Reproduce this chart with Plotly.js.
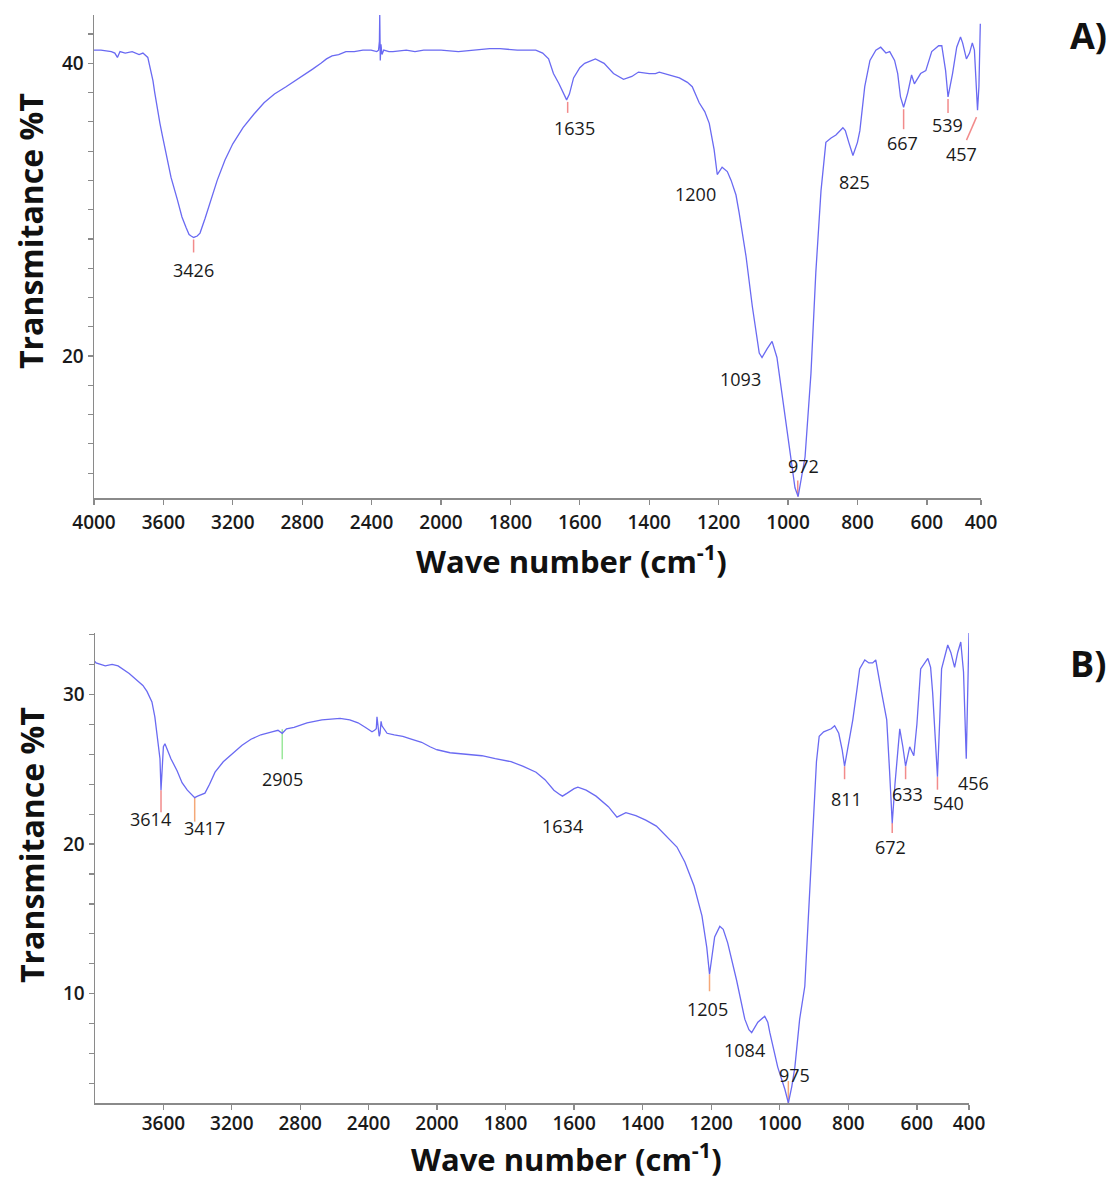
<!DOCTYPE html>
<html><head><meta charset="utf-8">
<script src="https://cdn.plot.ly/plotly-3.0.1.min.js"></script>
<style>html,body{margin:0;padding:0;background:#fff}#chart{width:1120px;height:1182px}</style>
</head><body><div id="chart"></div>
<script>
// ---- DATA ----
// Spectrum A: [wave number (cm-1), transmittance %T]
const spectrumA = [[4000,40.9],[3960,40.9],[3900,40.8],[3880,40.7],[3865,40.4],[3850,40.8],[3820,40.7],[3780,40.8],[3740,40.6],[3718,40.7],[3690,40.4],[3677,39.7],[3660,38.8],[3650,38.0],[3637,37.0],[3620,35.9],[3605,35.0],[3580,33.6],[3556,32.2],[3520,30.7],[3493,29.5],[3470,28.8],[3452,28.3],[3440,28.2],[3426,28.1],[3405,28.2],[3389,28.4],[3360,29.4],[3326,30.6],[3290,32.0],[3245,33.4],[3200,34.5],[3141,35.6],[3080,36.5],[3020,37.3],[2960,37.9],[2893,38.4],[2840,38.8],[2790,39.2],[2740,39.6],[2692,40.0],[2660,40.3],[2628,40.5],[2590,40.6],[2548,40.8],[2500,40.8],[2450,40.9],[2403,40.9],[2370,40.8],[2360,40.9],[2355,41.5],[2353,43.3],[2350,40.2],[2346,41.3],[2340,40.6],[2330,40.9],[2300,40.8],[2277,40.8],[2200,40.9],[2150,40.8],[2100,40.9],[2050,40.9],[2000,40.9],[1950,40.8],[1900,40.9],[1860,41.0],[1830,41.0],[1780,40.9],[1727,40.9],[1707,40.7],[1690,40.3],[1676,39.3],[1660,38.6],[1645,37.9],[1638,37.5],[1630,37.9],[1618,39.0],[1600,39.7],[1586,40.0],[1555,40.3],[1530,40.0],[1503,39.3],[1474,38.9],[1450,39.1],[1431,39.4],[1400,39.3],[1382,39.3],[1371,39.4],[1345,39.2],[1313,39.0],[1290,38.7],[1276,38.4],[1256,37.3],[1240,36.7],[1227,35.9],[1213,34.1],[1204,32.4],[1196,32.7],[1190,32.9],[1175,32.6],[1164,32.0],[1150,31.0],[1141,29.8],[1121,26.8],[1103,23.4],[1083,20.2],[1075,19.9],[1060,20.5],[1046,21.0],[1032,19.9],[1020,17.8],[1006,15.4],[989,12.2],[980,11.0],[971,10.4],[962,11.5],[951,13.1],[934,18.8],[920,25.7],[905,31.3],[891,34.6],[876,34.9],[862,35.1],[842,35.6],[835,35.4],[825,34.6],[813,33.7],[800,34.6],[793,35.4],[779,38.4],[764,40.2],[747,40.9],[733,41.1],[718,40.7],[707,40.8],[693,40.2],[684,39.3],[676,37.7],[667,37.0],[655,38.0],[644,39.2],[636,38.6],[626,39.0],[618,39.3],[603,39.5],[586,40.8],[566,41.2],[557,41.2],[546,39.5],[539,37.7],[526,39.3],[514,41.1],[503,41.8],[497,41.4],[486,40.3],[477,40.7],[469,41.4],[463,40.9],[454,36.8],[450,38.4],[446,42.7]];

// Spectrum B: [wave number (cm-1), transmittance %T]
const spectrumB = [[4000,32.2],[3994,32.1],[3940,31.9],[3900,32.0],[3865,31.9],[3800,31.4],[3760,31.0],[3720,30.6],[3696,30.2],[3667,29.5],[3650,28.5],[3643,27.9],[3630,26.8],[3620,25.7],[3614,23.6],[3606,25.0],[3600,26.5],[3591,26.7],[3575,26.2],[3556,25.7],[3520,24.9],[3491,24.1],[3460,23.6],[3430,23.2],[3417,23.1],[3400,23.2],[3357,23.4],[3330,24.0],[3298,24.8],[3250,25.5],[3193,26.1],[3140,26.6],[3088,27.0],[3030,27.3],[2965,27.5],[2930,27.6],[2905,27.4],[2880,27.7],[2836,27.8],[2760,28.1],[2673,28.3],[2600,28.4],[2567,28.4],[2510,28.3],[2462,28.1],[2420,27.8],[2380,27.5],[2365,27.6],[2355,27.7],[2351,28.5],[2345,27.6],[2338,27.2],[2333,27.4],[2327,28.2],[2322,27.9],[2310,27.7],[2292,27.4],[2250,27.3],[2200,27.2],[2146,27.0],[2090,26.8],[2041,26.5],[2000,26.3],[1962,26.1],[1920,26.0],[1869,25.9],[1830,25.7],[1784,25.5],[1750,25.2],[1711,24.8],[1685,24.3],[1659,23.6],[1641,23.3],[1634,23.2],[1620,23.4],[1600,23.7],[1589,23.8],[1565,23.6],[1536,23.2],[1500,22.5],[1475,21.8],[1460,22.0],[1449,22.1],[1420,21.9],[1391,21.6],[1360,21.2],[1329,20.5],[1300,19.8],[1277,18.8],[1250,17.2],[1227,15.2],[1213,13.1],[1205,11.3],[1197,12.8],[1190,13.8],[1175,14.5],[1165,14.3],[1152,13.4],[1126,10.9],[1102,8.3],[1090,7.6],[1082,7.4],[1070,7.9],[1064,8.1],[1044,8.5],[1035,8.1],[1029,7.4],[1006,5.1],[985,3.6],[975,2.7],[965,3.8],[956,5.1],[942,8.3],[927,10.5],[918,14.5],[907,19.0],[898,23.4],[893,25.5],[885,27.2],[872,27.5],[850,27.7],[840,27.9],[828,27.4],[818,26.3],[811,25.2],[800,26.5],[787,28.3],[775,30.3],[767,31.7],[752,32.3],[740,32.1],[729,32.1],[720,32.3],[706,30.5],[688,28.3],[680,25.0],[672,21.4],[664,24.0],[656,26.5],[650,27.7],[641,26.5],[633,25.2],[621,26.5],[609,25.9],[600,28.0],[589,31.7],[568,32.4],[560,31.8],[554,30.1],[545,26.0],[540,24.5],[533,28.5],[528,31.7],[510,33.3],[501,32.8],[490,31.8],[481,32.8],[472,33.5],[464,31.5],[456,25.7],[452,30.0],[448,34.1]];

// Labelled peaks (cm-1)
const peaksA = [3426, 1635, 1200, 1093, 972, 825, 667, 539, 457];
const peaksB = [3614, 3417, 2905, 1634, 1205, 1084, 975, 811, 672, 633, 540, 456];

// Tick labels
const ticksHighA = [4000, 3600, 3200, 2800, 2400, 2000];
const ticksHighB = [3600, 3200, 2800, 2400, 2000];
const ticksLow = [1800, 1600, 1400, 1200, 1000, 800, 600];
const lowEndLabel = '400';

const panelLabels = ['A)', 'B)'];
const xTitle = 'Wave number (cm<sup>-1</sup>)';
const yTitle = 'Transmitance %T';

// ---- LAYOUT GEOMETRY (pixels) ----
const W = 1120, H = 1182;
const px = v => v / W, py = v => 1 - v / H;
const FONT = '"Open Sans", sans-serif';
const geo = {
  A: {left: 94, brk: 441, right: 981, top: 15, bottom: 498, yr: [10.3, 43.3], ydt: 20, lowEnd: 444, xstand: 2,
      xTitleBottom: 584, yTitle: [31, 231], label: [1088, 36]},
  B: {left: 95, brk: 437, right: 969, top: 633, bottom: 1103, yr: [2.7, 34.1], ydt: 10, lowEnd: 448, xstand: -2,
      xTitleBottom: 1182, yTitle: [31, 845], label: [1088, 664]}
};
// label offsets: dx, dy (px, +down), mark line [x0,y0,x1,y1] px relative to peak, colour
const RED = '#f28b8b', GREEN = '#9be89b', ORANGE = '#f4a878';
const styleA = {
  3426: {dx: 0, dy: 33, line: [0, 2, 0, 15], c: RED},
  1635: {dx: 7, dy: 28, line: [0, 2, 0, 13], c: RED},
  1200: {dx: -23, dy: 19},
  1093: {dx: -15, dy: 22},
  972: {dx: 6, dy: -31, line: [0, 0, 0, -16], c: RED},
  825: {dx: 6, dy: 26},
  667: {dx: -1, dy: 36, line: [0, 2, 0, 22], c: RED},
  539: {dx: -1, dy: 28, line: [0, 2, 0, 16], c: RED},
  457: {dx: -15, dy: 44, line: [0, 7, -10, 30], c: RED}
};
const styleB = {
  3614: {dx: -11, dy: 29, line: [0, 0, 0, 22], c: RED},
  3417: {dx: 10, dy: 30, line: [0, 0, 0, 24], c: ORANGE},
  2905: {dx: 0, dy: 46, line: [0, -4, 0, 26], c: GREEN},
  1634: {dx: 0, dy: 30},
  1205: {dx: -2, dy: 35, line: [0, 0, 0, 17], c: ORANGE},
  1084: {dx: -6, dy: 17},
  975: {dx: 6, dy: -28, line: [0, 0, 0, -22], c: ORANGE},
  811: {dx: 2, dy: 33, line: [0, 0, 0, 13], c: RED},
  672: {dx: -2, dy: 24, line: [0, 0, 0, 10], c: RED},
  633: {dx: 2, dy: 28, line: [0, 0, 0, 13], c: RED},
  540: {dx: 11, dy: 26, line: [0, 0, 0, 13], c: RED},
  456: {dx: 7, dy: 24}
};

const axStyle = {
  showline: true, linecolor: '#8a8a8a', linewidth: 1.5,
  ticks: 'outside', ticklen: 5, tickwidth: 1.3, tickcolor: '#8a8a8a',
  showgrid: false, zeroline: false, fixedrange: true,
  tickfont: {family: FONT, size: 19, color: '#1a1a1a', weight: 600}
};

function lineTrace(spec, xa, ya) {
  return {type: 'scatter', mode: 'lines', x: spec.map(p => p[0]), y: spec.map(p => p[1]),
    xaxis: xa, yaxis: ya, line: {color: '#6a6af2', width: 1.3}, hoverinfo: 'skip', showlegend: false};
}

const data = [
  lineTrace(spectrumA, 'x', 'y'), lineTrace(spectrumA, 'x2', 'y'),
  lineTrace(spectrumB, 'x3', 'y2'), lineTrace(spectrumB, 'x4', 'y2')
];

function minNear(spec, wn) {
  let best = Infinity;
  spec.forEach(p => { if (Math.abs(p[0] - wn) <= 25 && p[1] < best) best = p[1]; });
  return best;
}

const annotations = [], shapes = [];
function addPeaks(spec, peaks, styles, hiAx, loAx, yAx) {
  peaks.forEach(wn => {
    const s = styles[wn] || {dx: 0, dy: 25};
    const T = minNear(spec, wn);
    const xa = wn >= 2000 ? hiAx : loAx;
    annotations.push({xref: xa, yref: yAx, x: wn, y: T, text: String(wn), showarrow: false,
      xshift: s.dx, yshift: -s.dy, xanchor: 'center', yanchor: 'middle',
      font: {family: FONT, size: 18, color: '#1a1a1a'}});
    if (s.line) {
      shapes.push({type: 'line', xref: xa, yref: yAx, xsizemode: 'pixel', ysizemode: 'pixel',
        xanchor: wn, yanchor: T, x0: s.line[0], y0: -s.line[1], x1: s.line[2], y1: -s.line[3],
        line: {color: s.c, width: 1.5}, layer: 'below'});
    }
  });
}
addPeaks(spectrumA, peaksA, styleA, 'x', 'x2', 'y');
addPeaks(spectrumB, peaksB, styleB, 'x3', 'x4', 'y2');

[['A', 0], ['B', 1]].forEach(([k, i]) => {
  const g = geo[k];
  const cx = (g.left + g.right) / 2 + 34;
  annotations.push({xref: 'paper', yref: 'paper', x: px(cx), y: py(g.xTitleBottom), text: xTitle,
    showarrow: false, xanchor: 'center', yanchor: 'bottom',
    font: {family: FONT, size: 31, color: '#111', weight: 'bold'}});
  annotations.push({xref: 'paper', yref: 'paper', x: px(g.yTitle[0]), y: py(g.yTitle[1]), text: yTitle,
    showarrow: false, textangle: -90, xanchor: 'center', yanchor: 'middle',
    font: {family: FONT, size: 32, color: '#111', weight: 'bold'}});
  annotations.push({xref: 'paper', yref: 'paper', x: px(g.label[0]), y: py(g.label[1]), text: panelLabels[i],
    showarrow: false, xanchor: 'center', yanchor: 'middle',
    font: {family: FONT, size: 36, color: '#111', weight: 'bold'}});
});

function hiAxis(g, ticks, anchor) {
  return Object.assign({}, axStyle, {domain: [px(g.left), px(g.brk)], range: [4000, 2000], anchor: anchor,
    tickmode: 'array', tickvals: ticks, ticktext: ticks.map(String), ticklabelstandoff: g.xstand});
}
function loAxis(g, anchor) {
  const vals = ticksLow.concat([g.lowEnd]);
  return Object.assign({}, axStyle, {domain: [px(g.brk), px(g.right)], range: [2000, g.lowEnd], anchor: anchor,
    tickmode: 'array', tickvals: vals, ticktext: ticksLow.map(String).concat([lowEndLabel]), ticklabelstandoff: g.xstand});
}
function yAxis(g, anchor) {
  return Object.assign({}, axStyle, {domain: [py(g.bottom), py(g.top)], range: g.yr, anchor: anchor,
    tickmode: 'linear', tick0: 0, dtick: g.ydt, ticklabelstandoff: 0,
    minor: {dtick: 2, tick0: 0, ticks: 'outside', ticklen: 5, tickwidth: 1.2, tickcolor: '#8a8a8a', showgrid: false}});
}

const layout = {
  width: W, height: H, margin: {l: 0, r: 0, t: 0, b: 0},
  paper_bgcolor: '#fff', plot_bgcolor: '#fff', showlegend: false,
  xaxis: hiAxis(geo.A, ticksHighA, 'y'),
  xaxis2: loAxis(geo.A, 'y'),
  yaxis: yAxis(geo.A, 'x'),
  xaxis3: hiAxis(geo.B, ticksHighB, 'y2'),
  xaxis4: loAxis(geo.B, 'y2'),
  yaxis2: yAxis(geo.B, 'x3'),
  annotations: annotations, shapes: shapes
};

Plotly.newPlot('chart', data, layout, {displayModeBar: false, staticPlot: true});
</script>
</body></html>
